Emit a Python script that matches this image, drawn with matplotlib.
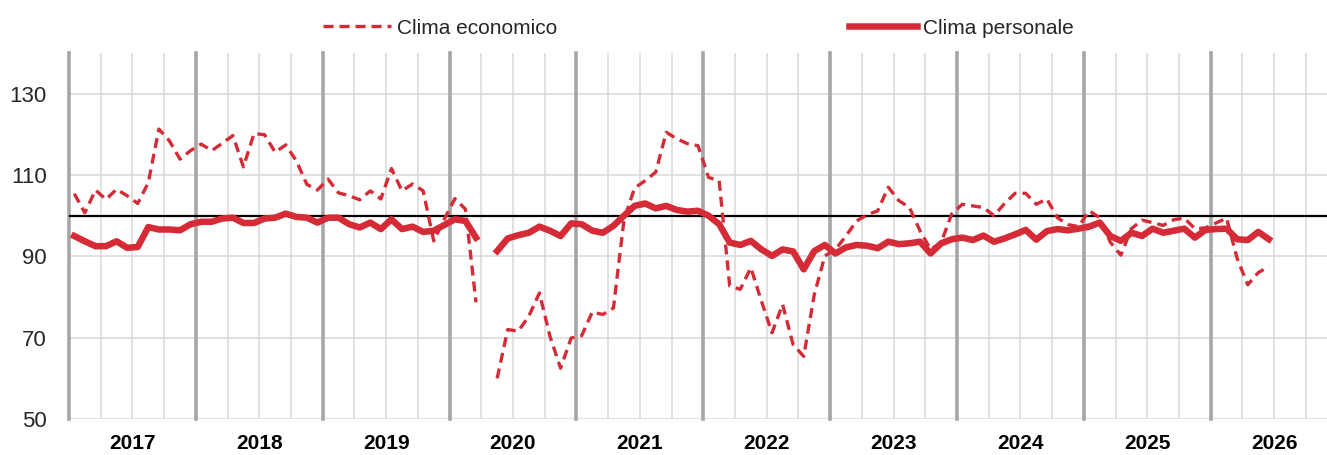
import numpy as np
import matplotlib
matplotlib.use("Agg")
import matplotlib.pyplot as plt

plt.rcParams['font.family'] = ['Liberation Sans', 'DejaVu Sans']

# Istat-style consumer confidence, monthly from Jan 2017 (April 2020 not collected)
years = list(range(2017, 2027))

clima_economico = [
    105.4, 100.7, 106.3, 104.0, 106.5, 104.9, 103.0, 108.1, 121.3, 118.4, 113.9, 116.0,  # 2017
    117.6, 116.0, 117.8, 119.7, 112.0, 120.2, 119.9, 115.6, 117.4, 113.5, 107.7, 106.3,  # 2018
    109.0, 105.6, 104.9, 103.9, 106.1, 104.1, 111.6, 106.1, 107.8, 106.1, 93.8, 99.1,    # 2019
    104.2, 101.6, 78.7, np.nan, 60.0, 72.0, 71.6, 75.3, 81.0, 70.3, 62.5, 69.9,          # 2020
    70.5, 76.3, 75.7, 77.3, 99.0, 106.8, 108.6, 110.7, 120.5, 118.9, 117.7, 117.2,       # 2021
    109.4, 108.6, 82.7, 81.9, 87.2, 79.0, 71.2, 78.2, 68.3, 65.4, 80.6, 90.1,            # 2022
    91.7, 95.0, 98.7, 100.2, 101.2, 107.0, 103.7, 102.0, 96.3, 91.7, 93.4, 100.4,        # 2023
    102.8, 102.4, 102.0, 100.0, 103.0, 105.5, 105.5, 102.8, 104.1, 99.5, 97.8, 97.3,     # 2024
    101.2, 99.5, 93.5, 90.3, 96.8, 98.9, 98.3, 97.6, 99.0, 99.4, 96.8, 97.0,             # 2025
    98.2, 99.4, 89.5, 83.0, 86.0, 87.5,                                                  # 2026
]

clima_personale = [
    95.0, 93.7, 92.5, 92.5, 93.7, 92.1, 92.3, 97.2, 96.6, 96.6, 96.4, 97.9,
    98.5, 98.5, 99.3, 99.5, 98.2, 98.2, 99.3, 99.5, 100.5, 99.7, 99.5, 98.3,
    99.5, 99.5, 97.9, 97.1, 98.3, 96.7, 99.1, 96.7, 97.3, 96.0, 96.3, 97.7,
    99.1, 98.7, 94.6, np.nan, 91.3, 94.4, 95.2, 95.8, 97.3, 96.3, 95.0, 98.1,
    97.9, 96.3, 95.8, 97.5, 100.0, 102.4, 103.0, 101.8, 102.4, 101.4, 101.0, 101.2,
    100.0, 97.9, 93.4, 92.8, 93.8, 91.7, 90.1, 91.7, 91.2, 86.8, 91.3, 92.8,
    90.7, 92.2, 92.8, 92.6, 92.0, 93.6, 93.0, 93.2, 93.6, 90.7, 93.2, 94.2,
    94.6, 94.0, 95.1, 93.6, 94.4, 95.4, 96.5, 94.1, 96.2, 96.7, 96.4, 96.8,
    97.3, 98.3, 95.0, 93.8, 95.8, 95.0, 96.8, 95.8, 96.3, 96.8, 94.6, 96.5,
    96.7, 96.8, 94.2, 94.0, 96.0, 94.2,
]

red = '#D52B36'
x = np.arange(len(clima_economico)) + 0.5   # month centres, 1 unit = 1 month

fig = plt.figure(figsize=(13.27, 4.55), dpi=100)
ax = fig.add_axes([69 / 1327, 1 - 419 / 455, 1 - 69 / 1327, (419 - 53) / 455])

# quarter / year separators
for q in range(0, 12 * len(years), 3):
    if q % 12 == 0:
        ax.axvline(q, color='#A6A6A6', lw=2.6, zorder=1, clip_on=False)
    else:
        ax.axvline(q, color='#D9D9D9', lw=1.1, zorder=0.5)

ax.axhline(100, color='black', lw=1.6, zorder=2)

ax.plot(x, clima_economico, color=red, lw=2.4, dashes=(3.0, 1.8), label='Clima economico', zorder=3)
ax.plot(x, clima_personale, color=red, lw=4.7, solid_joinstyle='round', label='Clima personale', zorder=4)

ax.set_xlim(0, 119)
ax.set_ylim(50, 140)
ax.set_yticks([50, 70, 90, 110, 130])
ax.yaxis.grid(True, color='#D9D9D9', lw=1.1, zorder=0.5)
ax.set_axisbelow(True)

ax.set_xticks([12 * k + 6 for k in range(len(years))])
ax.set_xticklabels([str(y) for y in years], fontweight='bold', fontsize=15, color='black')
ax.tick_params(axis='x', length=0, pad=11)
ax.tick_params(axis='y', length=0, pad=16, labelsize=16, labelcolor='#262626')

for s in ax.spines.values():
    s.set_visible(False)

fig.legend(loc='center', bbox_to_anchor=(0.526, 0.938), ncol=2, frameon=False,
           fontsize=15, handlelength=3.3, handletextpad=0.25, columnspacing=14,
           labelcolor='#262626')

fig.savefig('out.png', dpi=100)
